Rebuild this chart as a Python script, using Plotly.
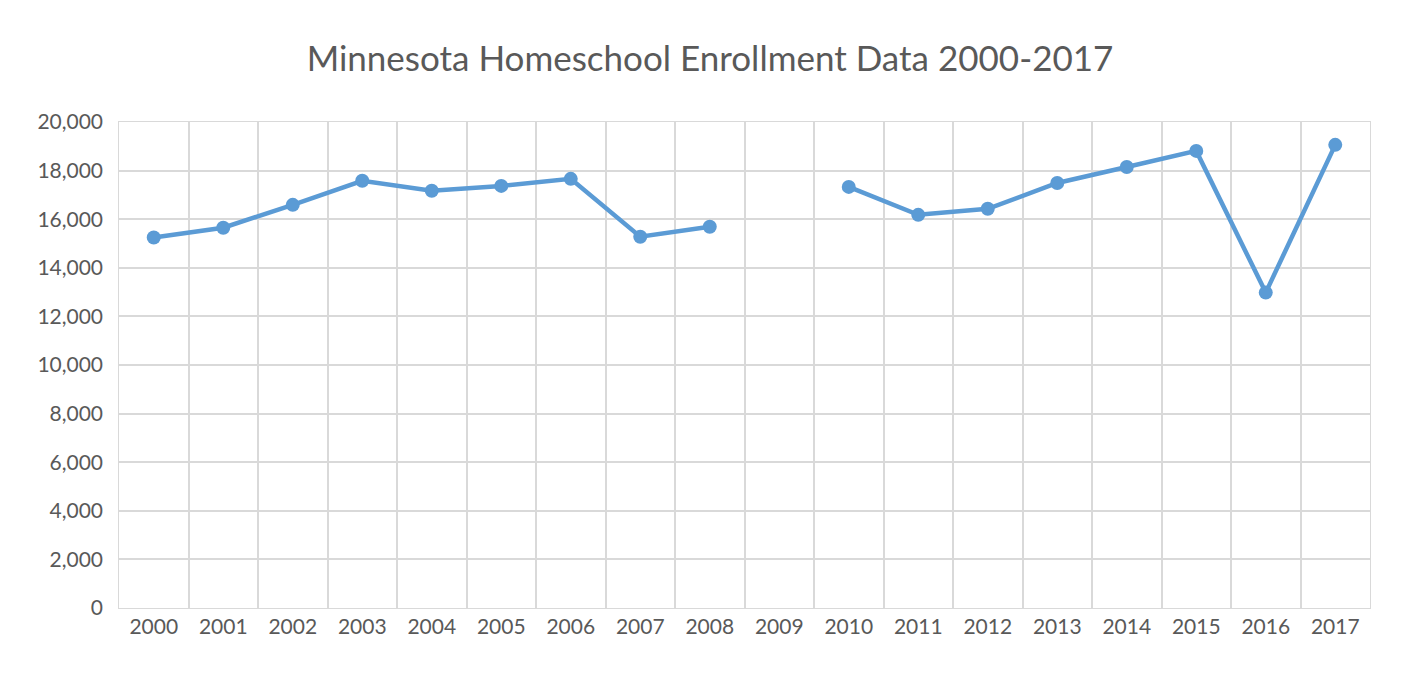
import plotly.graph_objects as go

years = ["2000", "2001", "2002", "2003", "2004", "2005", "2006", "2007", "2008",
         "2009", "2010", "2011", "2012", "2013", "2014", "2015", "2016", "2017"]
enrollment = [15250, 15650, 16590, 17580, 17170, 17370, 17660, 15280, 15690,
              None, 17330, 16180, 16430, 17490, 18150, 18810, 12980, 19060]

fig = go.Figure()
fig.add_trace(go.Scatter(
    x=years, y=enrollment, mode="lines+markers",
    line=dict(color="#5B9BD5", width=4.5),
    marker=dict(color="#5B9BD5", size=14),
    connectgaps=False, showlegend=False
))

fig.update_layout(
    title=dict(text="Minnesota Homeschool Enrollment Data 2000-2017",
               x=0.5, xanchor="center", y=0.925, yanchor="middle",
               font=dict(size=35, color="#595959", family="Lato")),
    font=dict(family="Lato", size=21, color="#595959"),
    width=1404, height=674,
    margin=dict(l=111, r=42, t=114, b=74),
    plot_bgcolor="white", paper_bgcolor="white",
)
fig.update_xaxes(type="category", tickson="boundaries", range=[-0.5, 17.5],
                 showgrid=True, gridcolor="#D9D9D9", gridwidth=1.5, ticks="",
                 showline=True, linecolor="#D9D9D9", mirror=True)
fig.update_yaxes(range=[0, 20000], dtick=2000, tickformat=",", showgrid=True,
                 gridcolor="#D9D9D9", gridwidth=1.5, zeroline=False,
                 showline=True, linecolor="#D9D9D9", mirror=True, ticksuffix="  ")

fig.write_html("out.html")
